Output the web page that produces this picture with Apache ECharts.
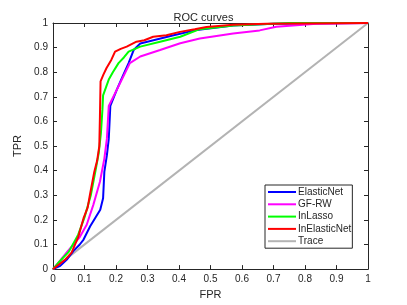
<!DOCTYPE html>
<html>
<head>
<meta charset="utf-8">
<script src="https://cdn.jsdelivr.net/npm/echarts@6/dist/echarts.min.js"></script>
<style>html,body{margin:0;padding:0;background:#fff;}#c{width:407px;height:305px;}</style>
</head>
<body>
<div id="c"></div>
<script>
var seriesNames = ['ElasticNet', 'GF-RW', 'InLasso', 'InElasticNet', 'Trace'];
var elasticNet = [[0,0],[0.023,0.013],[0.045,0.04],[0.065,0.074],[0.085,0.10],[0.097,0.12],[0.118,0.174],[0.134,0.208],[0.15,0.241],[0.159,0.288],[0.163,0.395],[0.171,0.462],[0.177,0.529],[0.182,0.663],[0.203,0.73],[0.22,0.78],[0.24,0.837],[0.256,0.89],[0.277,0.917],[0.319,0.93],[0.383,0.95],[0.45,0.97],[0.572,0.99],[0.7,0.997],[1,1]];
var gfrw = [[0,0],[0.02,0.03],[0.045,0.07],[0.065,0.1],[0.085,0.13],[0.107,0.18],[0.128,0.261],[0.149,0.355],[0.163,0.449],[0.171,0.529],[0.177,0.663],[0.203,0.73],[0.244,0.837],[0.277,0.864],[0.34,0.89],[0.404,0.918],[0.466,0.937],[0.572,0.957],[0.656,0.97],[0.709,0.985],[0.836,0.997],[1,1]];
var inLasso = [[0,0],[0.02,0.03],[0.05,0.07],[0.08,0.14],[0.1,0.21],[0.12,0.30],[0.135,0.40],[0.145,0.47],[0.152,0.55],[0.157,0.65],[0.159,0.706],[0.177,0.77],[0.19,0.80],[0.208,0.837],[0.225,0.86],[0.24,0.884],[0.277,0.904],[0.34,0.924],[0.404,0.944],[0.466,0.975],[0.572,0.99],[0.75,1.0],[1,1]];
var inElasticNet = [[0,0],[0.02,0.02],[0.04,0.04],[0.059,0.067],[0.08,0.13],[0.097,0.207],[0.11,0.25],[0.117,0.30],[0.131,0.395],[0.14,0.44],[0.147,0.50],[0.149,0.62],[0.151,0.763],[0.16,0.79],[0.17,0.817],[0.185,0.85],[0.197,0.884],[0.215,0.895],[0.234,0.904],[0.265,0.924],[0.29,0.93],[0.318,0.944],[0.36,0.95],[0.403,0.964],[0.45,0.975],[0.487,0.984],[0.572,0.993],[0.678,0.997],[0.8,0.998],[1,1]];
var trace = [[0,0],[1,1]];
var colors = ['#0000ff', '#ff00ff', '#00ff00', '#ff0000', '#b3b3b3'];
var allData = [elasticNet, gfrw, inLasso, inElasticNet, trace];

var font = 'Liberation Sans, Arial, Helvetica, sans-serif';
var axisCol = '#262626';
var chart = echarts.init(document.getElementById('c'), null, {renderer: 'canvas'});
function ax(pos, show, name) {
  return {
    type: 'value', min: 0, max: 1, interval: 0.1, position: pos,
    axisLine: {show: true, onZero: false, lineStyle: {color: axisCol, width: 1}},
    axisTick: {show: true, inside: true, length: 4, lineStyle: {color: axisCol}},
    axisLabel: {show: show, color: axisCol, fontFamily: font, fontSize: 10, margin: 5},
    splitLine: {show: false},
    name: name || '', nameLocation: 'middle',
    nameTextStyle: {color: axisCol, fontFamily: font, fontSize: 11}
  };
}
var xb = ax('bottom', true, 'FPR'); xb.nameGap = 18;
var xt = ax('top', false);
var yl = ax('left', true, 'TPR'); yl.nameGap = 22;
var yr = ax('right', false);
var series = seriesNames.map(function (n, i) {
  return {
    name: n, type: 'line', xAxisIndex: 0, yAxisIndex: 0,
    data: allData[i], symbol: 'none', showSymbol: false,
    lineStyle: {color: colors[i], width: 2}, itemStyle: {color: colors[i]},
    z: i === 4 ? 1 : 2 + i, animation: false
  };
});
chart.setOption({
  animation: false,
  title: {text: 'ROC curves', left: 'center', top: 7,
    textStyle: {fontFamily: font, fontSize: 11, fontWeight: 'normal', color: axisCol}},
  grid: {left: 53, right: 39, top: 23, bottom: 33, containLabel: false},
  xAxis: [xb, xt],
  yAxis: [yl, yr],
  legend: {
    data: seriesNames, orient: 'vertical', left: 265, top: 185,
    backgroundColor: '#fff', borderColor: axisCol, borderWidth: 1,
    padding: [2, 1, 2, 3], itemGap: 2.3, itemWidth: 28, itemHeight: 2,
    icon: 'rect',
    textStyle: {fontFamily: font, fontSize: 10, color: axisCol, padding: [0, 0, 0, -3], lineHeight: 10}
  },
  series: series
});
</script>
</body>
</html>
